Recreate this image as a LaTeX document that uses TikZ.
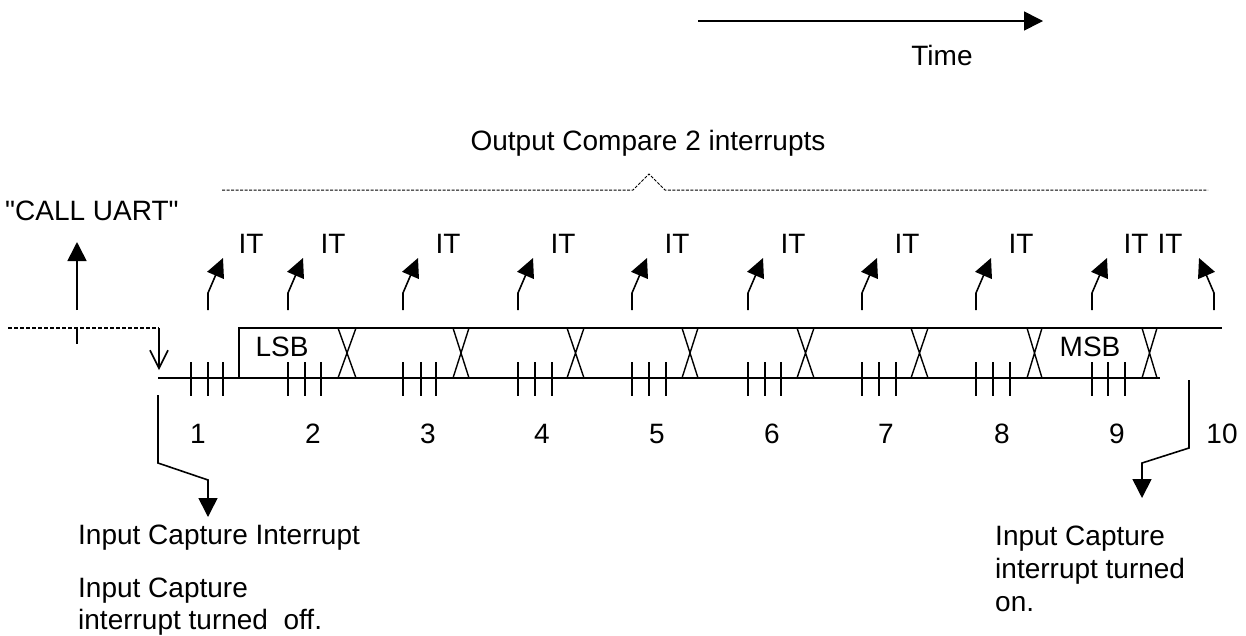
\documentclass[tikz,border=0pt]{standalone}
\usepackage{fontspec}
\setmainfont{Liberation Sans}
\newfontfamily\plainsans{Liberation Sans}
\usetikzlibrary{arrows.meta}
\begin{document}
\begin{tikzpicture}[x=1pt,y=-1pt,
  lbl/.style={inner sep=0pt,font=\plainsans\fontsize{28}{33}\selectfont},
  sig/.style={line width=1.6pt},
  fat/.style={-{Triangle[length=19pt,width=19pt]}},
  itarr/.style={line width=1.6pt,-{Triangle[length=19pt,width=18pt]}},
  tick/.style={line width=1.6pt},
  dsh/.style={line width=1.4pt,dash pattern=on 4pt off 2pt}]
\useasboundingbox (0,0) rectangle (1246,635);
\fill[white] (0,0) rectangle (1246,635);

% Time arrow
\coordinate (t0) at (698,21);
\coordinate (t1) at (1043,21);
\draw[line width=1.6pt,fat] (t0) -- (t1);
\node[lbl,anchor=base] (time) at (942,65) {Time};

% Output compare
\node[lbl,anchor=base] (oc) at (648,150) {Output Compare 2 interrupts};
\coordinate (b0) at (222,190);
\coordinate (b1) at (633,190);
\coordinate (bp) at (649,174);
\coordinate (b2) at (665,190);
\coordinate (b3) at (1208,190);
\draw[line width=1pt,dash pattern=on 3pt off 1.5pt] (b0) -- (b1) -- (bp) -- (b2) -- (b3);

% CALL UART
\node[lbl,anchor=base west] (call) at (5,220) {"CALL UART"};
\coordinate (u0) at (77,310);
\coordinate (u1) at (77,242);
\draw[line width=1.6pt,fat] (u0) -- (u1);

% idle dashed line and start
\coordinate (d0) at (8,328);
\coordinate (d1) at (159,328);
\draw[dsh] (d0) -- (d1);
\coordinate (k0) at (77,328);
\coordinate (k1) at (77,344);
\draw[line width=1.4pt] (k0) -- (k1);
\coordinate (s1) at (159,370);
\draw[line width=1.6pt,-{Straight Barb[length=18pt,width=18pt,line width=1.6pt]}] (d1) -- (s1);

% signal
\coordinate (base0) at (158,378);
\coordinate (base1) at (1160,378);
\draw[sig] (base0) -- (base1);
\coordinate (r0) at (239,378);
\coordinate (r1) at (239,328);
\coordinate (top1) at (1222,328);
\draw[sig] (r0) -- (r1) -- (top1);

% X crossings
\foreach \a/\b in {338/356,453/469,567/584,682/698,797/814,911/928,1027/1042,1142/1157}{
  \draw[line width=1.4pt] (\a,328) -- (\b,378) (\b,328) -- (\a,378);
}

% tick groups
\foreach \p/\q/\r in {191/208/223,288/305/321,403/421/436,518/535/552,632/649/666,748/765/781,862/879/896,976/993/1010,1092/1108/1125}{
  \draw[tick] (\p,362) -- (\p,396) (\q,362) -- (\q,396) (\r,362) -- (\r,396);
}

\node[lbl,anchor=base] (lsb) at (282,356) {LSB};
\node[lbl,anchor=base] (msb) at (1090,356) {MSB};

% IT arrows
\foreach \x in {208,288,403,518,632,748,862,976,1092}{
  \draw[itarr] (\x,310) -- (\x,293) -- ({\x+15},258);
}
\draw[itarr] (1214,310) -- (1214,293) -- (1199,258);
\foreach \x in {251,333,448,563,677,793,907,1021,1136,1170}{
  \node[lbl,anchor=base] at (\x,253) {IT};
}

% bit numbers
\foreach \x/\n in {198/1,313/2,428/3,542/4,657/5,772/6,886/7,1002/8,1117/9,1222/10}{
  \node[lbl,anchor=base] at (\x,443) {\n};
}

% input capture interrupt arrow
\coordinate (i0) at (158,395);
\coordinate (i1) at (158,463);
\coordinate (i2) at (208,480);
\coordinate (i3) at (208,517);
\draw[line width=1.6pt,fat] (i0) -- (i1) -- (i2) -- (i3);
\node[lbl,anchor=base west] (ici) at (78,544) {Input Capture Interrupt};
\node[lbl,anchor=base west] (icoff1) at (78,597) {Input Capture};
\node[lbl,anchor=base west] (icoff2) at (78,629) {interrupt turned\ \ off.};

% input capture turned on arrow
\coordinate (j0) at (1189,380);
\coordinate (j1) at (1189,448);
\coordinate (j2) at (1142,463);
\coordinate (j3) at (1142,498);
\draw[line width=1.6pt,fat] (j0) -- (j1) -- (j2) -- (j3);
\node[lbl,anchor=base west] (icon1) at (995,545) {Input Capture};
\node[lbl,anchor=base west] (icon2) at (995,578) {interrupt turned};
\node[lbl,anchor=base west] (icon3) at (995,611) {on.};
\end{tikzpicture}
\end{document}
